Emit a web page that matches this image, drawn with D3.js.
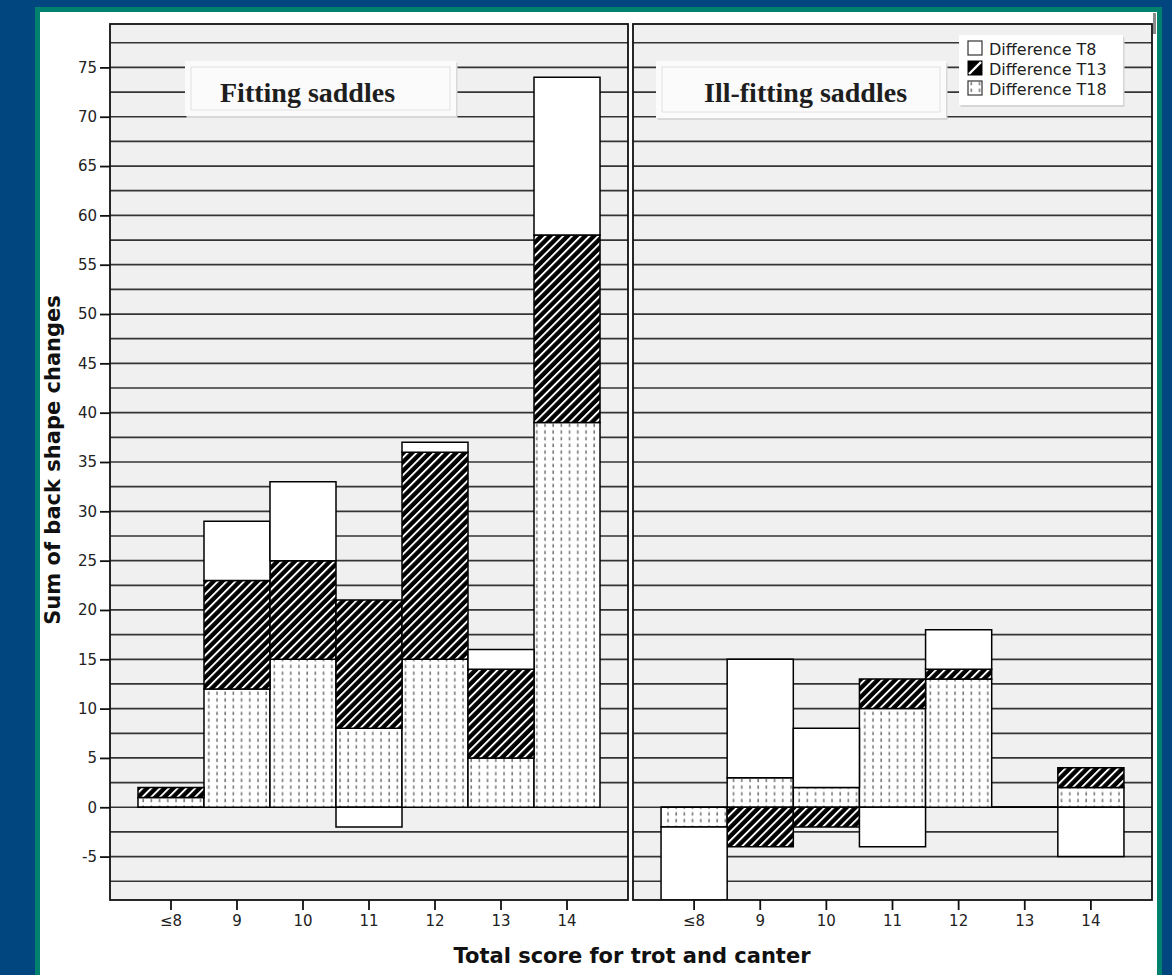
<!DOCTYPE html>
<html>
<head>
<meta charset="utf-8">
<script src="https://cdn.jsdelivr.net/npm/d3@7"></script>
<style>
  html, body { margin: 0; padding: 0; background: #01467f; }
  svg { display: block; }
</style>
</head>
<body>
<svg id="chart" width="1172" height="975"></svg>
<script>
// ---------------- DATA ----------------
const categories = ["≤8", "9", "10", "11", "12", "13", "14"];
const seriesKeys = ["T18", "T13", "T8"];          // stacking order (bottom first)
const legendLabels = ["Difference T8", "Difference T13", "Difference T18"];
const legendKeys = ["T8", "T13", "T18"];

// Fitting saddles
const fitT8  = [0, 6, 8, -2, 1, 2, 16];
const fitT13 = [1, 11, 10, 13, 21, 9, 19];
const fitT18 = [1, 12, 15, 8, 15, 5, 39];
// Ill-fitting saddles
const illT8  = [-7.4, 12, 6, -4, 4, 0, -5];
const illT13 = [0, -4, -2, 3, 1, 0, 2];
const illT18 = [-2, 3, 2, 10, 13, 0, 2];

const yTicks = [-5, 0, 5, 10, 15, 20, 25, 30, 35, 40, 45, 50, 55, 60, 65, 70, 75];
const yTickLabels = ["-5", "0", "5", "10", "15", "20", "25", "30", "35", "40", "45", "50", "55", "60", "65", "70", "75"];
const gridValues = [-7.5, -5, -2.5, 0, 2.5, 5, 7.5, 10, 12.5, 15, 17.5, 20, 22.5, 25, 27.5, 30, 32.5, 35, 37.5, 40, 42.5, 45, 47.5, 50, 52.5, 55, 57.5, 60, 62.5, 65, 67.5, 70, 72.5, 75, 77.5];
const panelTitles = ["Fitting saddles", "Ill-fitting saddles"];
const yTitle = "Sum of back shape changes";
const xTitle = "Total score for trot and canter";

// ---------------- BUILD ----------------
function rows(t8, t13, t18) {
  return categories.map((c, i) => ({ cat: c, T8: t8[i], T13: t13[i], T18: t18[i] }));
}
const panelData = [rows(fitT8, fitT13, fitT18), rows(illT8, illT13, illT18)];

const svg = d3.select("#chart");
const W = 1172, H = 975;

// frame
svg.append("rect").attr("x", 0).attr("y", 0).attr("width", W).attr("height", H).attr("fill", "#01467f");
svg.append("rect").attr("x", 35).attr("y", 7).attr("width", 1127).attr("height", H - 7).attr("fill", "#00806f");
svg.append("rect").attr("x", 40).attr("y", 12).attr("width", 1117).attr("height", H - 12).attr("fill", "#ffffff");

// patterns
const defs = svg.append("defs");
const hatch = defs.append("pattern").attr("id", "hatch").attr("patternUnits", "userSpaceOnUse")
  .attr("width", 6.2).attr("height", 10).attr("patternTransform", "rotate(45)");
hatch.append("rect").attr("width", 6.2).attr("height", 10).attr("fill", "#000");
hatch.append("rect").attr("x", 0).attr("width", 1.9).attr("height", 10).attr("fill", "#fff");

const dots = defs.append("pattern").attr("id", "dots").attr("patternUnits", "userSpaceOnUse")
  .attr("width", 8.2).attr("height", 6.7);
dots.append("rect").attr("width", 8.2).attr("height", 6.7).attr("fill", "#fff");
dots.append("rect").attr("x", 3).attr("y", 1.5).attr("width", 1.6).attr("height", 3.4).attr("fill", "#7c7c7c");

const fills = { T8: "#ffffff", T13: "url(#hatch)", T18: "url(#dots)" };

// scales
const yTop = 24, yBot = 900;
const y = d3.scaleLinear().domain([-9.4, 79.4]).range([yBot, yTop]);
const panels = [
  { x0: 110, x1: 628, box: [185, 61, 271, 55], tx: 220 },
  { x0: 633, x1: 1152, box: [656, 61, 290, 57], tx: 704 }
];

const stack = d3.stack().keys(seriesKeys).offset(d3.stackOffsetDiverging);

panels.forEach((p, pi) => {
  const g = svg.append("g");
  const x = d3.scaleBand().domain(categories).range([p.x0, p.x1]).paddingInner(0).paddingOuter(0.424);

  const clipId = "clip" + pi;
  defs.append("clipPath").attr("id", clipId).append("rect")
    .attr("x", p.x0).attr("y", yTop).attr("width", p.x1 - p.x0).attr("height", yBot - yTop);

  // background
  g.append("rect").attr("x", p.x0).attr("y", yTop).attr("width", p.x1 - p.x0).attr("height", yBot - yTop)
    .attr("fill", "#f0f0f0");

  // gridlines
  g.append("g").selectAll("line").data(gridValues).join("line")
    .attr("x1", p.x0).attr("x2", p.x1)
    .attr("y1", d => y(d)).attr("y2", d => y(d))
    .attr("stroke", "#343434").attr("stroke-width", 1.7);

  // title box
  const [bx, by, bw, bh] = p.box;
  g.append("rect").attr("x", bx + 1.5).attr("y", by + 2).attr("width", bw).attr("height", bh).attr("fill", "#d8d8d8");
  g.append("rect").attr("x", bx).attr("y", by).attr("width", bw).attr("height", bh).attr("fill", "#fbfbfb");
  g.append("rect").attr("x", bx + 6).attr("y", by + 6).attr("width", bw - 12).attr("height", bh - 12)
    .attr("fill", "none").attr("stroke", "#e2e2e2").attr("stroke-width", 1);
  g.append("text").attr("x", p.tx).attr("y", 102)
    .attr("font-family", "'Liberation Serif', 'Times New Roman', serif").attr("font-weight", "bold")
    .attr("font-size", 28).attr("fill", "#1e1e1e").text(panelTitles[pi]);

  // bars
  const series = stack(panelData[pi]);
  const bars = g.append("g").attr("clip-path", `url(#${clipId})`);
  series.forEach(s => {
    bars.append("g").selectAll("path").data(s).join("path")
      .attr("d", d => {
        const xa = x(d.data.cat), xb = xa + x.bandwidth();
        const ya = y(d[0]), yb = y(d[1]);
        return `M${xa},${ya}H${xb}V${yb}H${xa}Z`;
      })
      .attr("fill", fills[s.key])
      .attr("stroke", "#000").attr("stroke-width", 1.5);
  });

  // panel border
  g.append("rect").attr("x", p.x0).attr("y", yTop).attr("width", p.x1 - p.x0).attr("height", yBot - yTop)
    .attr("fill", "none").attr("stroke", "#111").attr("stroke-width", 1.8);

  // x axis
  const xAxis = g.append("g").attr("transform", `translate(0,${yBot})`)
    .call(d3.axisBottom(x).tickSize(10).tickPadding(5));
  xAxis.select(".domain").remove();
  xAxis.selectAll(".tick line").attr("stroke", "#111").attr("stroke-width", 1.8);
  xAxis.selectAll(".tick text").attr("font-family", "'DejaVu Sans', sans-serif").attr("font-size", 15).attr("fill", "#222");

  // y axis (left panel only)
  if (pi === 0) {
    const yAxis = g.append("g").attr("transform", `translate(${p.x0},0)`)
      .call(d3.axisLeft(y).tickValues(yTicks).tickSize(10).tickPadding(3)
        .tickFormat((d, i) => yTickLabels[i]));
    yAxis.select(".domain").remove();
    yAxis.selectAll(".tick line").attr("stroke", "#111").attr("stroke-width", 1.8);
    yAxis.selectAll(".tick text").attr("font-family", "'DejaVu Sans', sans-serif").attr("font-size", 15).attr("fill", "#222");
  }
});

// small artefact at top right
svg.append("rect").attr("x", 1153).attr("y", 13).attr("width", 3).attr("height", 21).attr("fill", "#8a8a8a");

// legend
const lg = svg.append("g");
lg.append("rect").attr("x", 960.5).attr("y", 37).attr("width", 164).attr("height", 70).attr("fill", "#d6d6d6");
lg.append("rect").attr("x", 959).attr("y", 35).attr("width", 164).attr("height", 70).attr("fill", "#fff");
const legendY = [41, 61, 81];
legendKeys.forEach((k, i) => {
  const sy = legendY[i];
  if (k === "T13") {
    lg.append("rect").attr("x", 968).attr("y", sy).attr("width", 14).attr("height", 14).attr("fill", "#000").attr("stroke", "#000");
    lg.append("line").attr("x1", 969).attr("y1", sy + 13).attr("x2", 981).attr("y2", sy + 1)
      .attr("stroke", "#fff").attr("stroke-width", 2.4);
  } else {
    lg.append("rect").attr("x", 968).attr("y", sy).attr("width", 14).attr("height", 14)
      .attr("fill", fills[k]).attr("stroke", "#333").attr("stroke-width", 1.2);
  }
  lg.append("text").attr("x", 989).attr("y", sy + 14)
    .attr("font-family", "'DejaVu Sans', sans-serif").attr("font-size", 16).attr("fill", "#1e1e1e")
    .text(legendLabels[i]);
});

// axis titles
svg.append("text").attr("transform", `translate(60,${460}) rotate(-90)`).attr("text-anchor", "middle")
  .attr("font-family", "'DejaVu Sans', sans-serif").attr("font-weight", "bold").attr("font-size", 21)
  .attr("fill", "#111").text(yTitle);
svg.append("text").attr("x", 632).attr("y", 963).attr("text-anchor", "middle")
  .attr("font-family", "'DejaVu Sans', sans-serif").attr("font-weight", "bold").attr("font-size", 21)
  .attr("fill", "#111").text(xTitle);
</script>
</body>
</html>
